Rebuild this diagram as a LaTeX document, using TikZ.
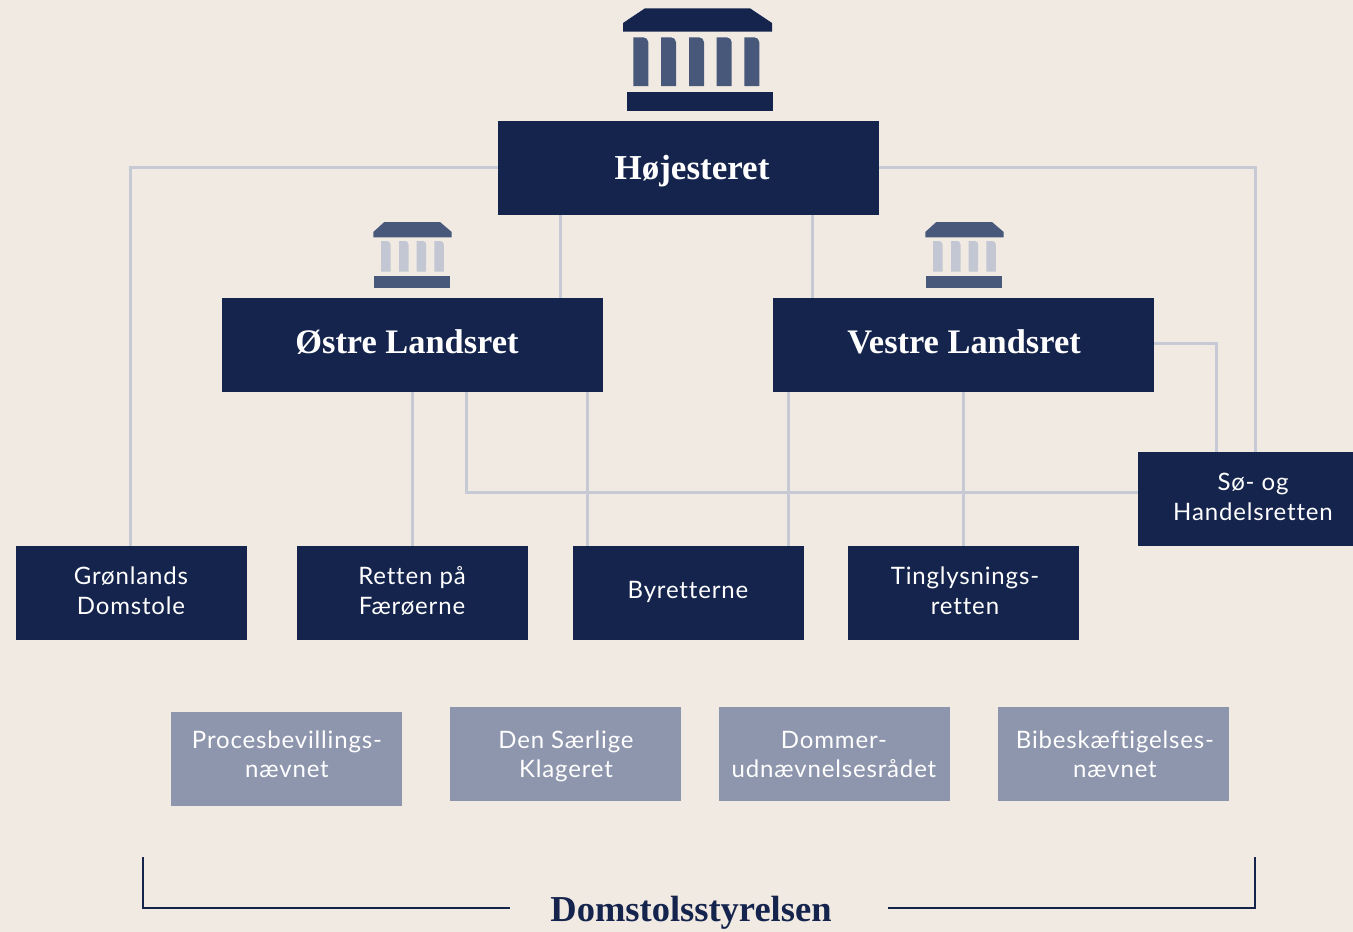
\documentclass[tikz,border=0pt]{standalone}
\usepackage{fontspec}
\setmainfont{Lato}
\newfontfamily\serifbold[Ligatures=TeX]{Liberation Serif Bold}
\newfontfamily\sanslet[LetterSpace=3.5,Ligatures=NoCommon]{Lato}
\usetikzlibrary{calc}
\definecolor{bgc}{HTML}{F1EAE3}
\definecolor{navy}{HTML}{15244D}
\definecolor{slate}{HTML}{47587A}
\definecolor{pale}{HTML}{C2C7D3}
\definecolor{greyb}{HTML}{8E96AE}
\definecolor{linec}{HTML}{C5CAD5}
\newcommand{\lab}[3]{\makebox[0pt]{\kern#1\relax\raisebox{\dimexpr#2-9pt\relax}[0pt][0pt]{\begin{tabular}{@{}c@{}}#3\end{tabular}}\kern-#1\relax}}
\newcommand{\courtbig}{%
  \fill[navy] (623,23) -- (645,8.3) -- (750,8.3) -- (772,23) -- (772,31.7) -- (623,31.7) -- cycle;
  \foreach \cx in {633.3,661,689,716.7,744.3}
    \fill[slate] (\cx,37.3) -- ({\cx+10},37.3) arc[start angle=-90,end angle=0,radius=5] -- ({\cx+15},86) -- (\cx,86) -- cycle;
  \fill[navy] (627,92) rectangle (773,111);
}
\newcommand{\courtsmall}{%
  \fill[slate] (373.3,232) -- (384.3,222) -- (440,222) -- (451.7,232) -- (451.7,237.3) -- (373.3,237.3) -- cycle;
  \foreach \cx in {381,399,416.7,434.3}
    \fill[pale] (\cx,241) -- ({\cx+6},241) arc[start angle=-90,end angle=0,radius=3.5] -- ({\cx+9.5},271.7) -- (\cx,271.7) -- cycle;
  \fill[slate] (374,276) rectangle (450,287.7);
}
\tikzset{
  bigbox/.style={fill=navy,text=white,minimum width=381pt,minimum height=94pt,inner sep=0pt,
    font=\serifbold\fontsize{35}{40}\selectfont},
  lowbox/.style={fill=navy,text=white,minimum width=231pt,minimum height=94pt,inner sep=0pt,
    font=\sanslet\fontsize{24}{30}\selectfont},
  sobox/.style={lowbox,minimum width=215pt},
  greybox/.style={fill=greyb,text=white,minimum width=231pt,minimum height=94pt,inner sep=0pt,
    font=\sanslet\fontsize{24}{29}\selectfont},
  conn/.style={draw=linec,line width=3pt,line join=miter},
  brk/.style={draw=navy,line width=2pt},
  title/.style={text=navy,inner sep=0pt,font=\serifbold\fontsize{36.5}{40}\selectfont},
}
\begin{document}
\begin{tikzpicture}[x=1pt,y=-1pt]
\useasboundingbox (0,0) rectangle (1353,932);
\fill[bgc] (0,0) rectangle (1353,932);
% boxes
\node[bigbox] (hoj) at (688.5,168) {\lab{3.5pt}{-1pt}{Højesteret}};
\node[bigbox,font=\serifbold\fontsize{34.4}{40}\selectfont] (ost) at (412.5,345) {\lab{-5.5pt}{2pt}{Østre Landsret}};
\node[bigbox,font=\serifbold\fontsize{34.4}{40}\selectfont] (ves) at (963.5,345) {\lab{0.5pt}{2pt}{Vestre Landsret}};
\node[lowbox] (gron) at (131.5,593) {\lab{-0.5pt}{2pt}{Grønlands\\Domstole}};
\node[lowbox] (ret) at (412.5,593) {\lab{-0.5pt}{2pt}{Retten på\\Færøerne}};
\node[lowbox] (byr) at (688.5,593) {\lab{-0.5pt}{3pt}{Byretterne}};
\node[lowbox] (tin) at (963.5,593) {\lab{1.5pt}{2pt}{Tinglysnings-\\retten}};
\node[sobox] (so) at (1245.5,499) {\lab{7.5pt}{2.5pt}{Sø- og\\Handelsretten}};
\node[greybox] (pro) at (286.5,759) {\lab{0.5pt}{5pt}{Procesbevillings-\\nævnet}};
\node[greybox] (den) at (565.5,754) {\lab{0.5pt}{0pt}{Den Særlige\\Klageret}};
\node[greybox] (dom) at (834.5,754) {\lab{-0.5pt}{0pt}{Dommer-\\udnævnelsesrådet}};
\node[greybox] (bib) at (1113.5,754) {\lab{1.5pt}{0pt}{Bibeskæftigelses-\\nævnet}};
% connectors
\draw[conn] ([yshift=1pt]hoj.west) -| ([xshift=-1.5pt]gron.north);
\draw[conn] ([yshift=1pt]hoj.east) -| ([xshift=9.5pt]so.north);
\draw[conn] ([xshift=-128.5pt]hoj.south) -- ([xshift=147.5pt]ost.north);
\draw[conn] ([xshift=123.5pt]hoj.south) -- ([xshift=-151.5pt]ves.north);
\draw[conn] ([yshift=2pt]ves.east) -| ([xshift=-29pt]so.north);
\draw[conn] (ost.south) -- (ret.north);
\draw[conn] ([xshift=53.5pt]ost.south) |- ([yshift=7pt]so.west);
\draw[conn] ([xshift=174.5pt]ost.south) -- ([xshift=-101.5pt]byr.north);
\draw[conn] ([xshift=-175pt]ves.south) -- ([xshift=100pt]byr.north);
\draw[conn] (ves.south) -- (tin.north);
% icons
\courtbig
\courtsmall
\begin{scope}[shift={(552,0)}]\courtsmall\end{scope}
% bracket
\node[title] (styr) at (691,913) {Domstolsstyrelsen};
\coordinate (la) at (143,857);
\coordinate (lb) at (510,908);
\coordinate (ra) at (1255,857);
\coordinate (rb) at (888,908);
\draw[brk] (la) |- (lb);
\draw[brk] (ra) |- (rb);
\end{tikzpicture}
\end{document}
